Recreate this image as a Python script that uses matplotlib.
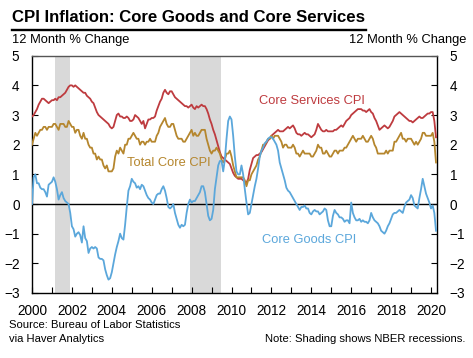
import matplotlib
matplotlib.use("Agg")
import matplotlib.pyplot as plt
import numpy as np
from matplotlib.lines import Line2D

plt.rcParams['font.family'] = ['Liberation Sans', 'DejaVu Sans']

# ---------------- data (monthly, Jan 2000 - Apr 2020) ----------------
start_year = 2000
core_services = [
    2.95, 3.0, 3.1, 3.2, 3.35, 3.45, 3.55, 3.55, 3.5, 3.45, 3.4, 3.45,   # 2000
    3.5, 3.5, 3.55, 3.5, 3.6, 3.6, 3.65, 3.7, 3.75, 3.85, 3.95, 4.0,     # 2001
    4.0, 3.95, 4.0, 3.95, 3.9, 3.85, 3.8, 3.75, 3.75, 3.65, 3.6, 3.55,   # 2002
    3.45, 3.4, 3.25, 3.1, 3.0, 2.95, 2.9, 2.85, 2.8, 2.75, 2.7, 2.6,     # 2003
    2.55, 2.6, 2.8, 3.0, 3.05, 2.95, 2.95, 2.9, 2.9, 2.95, 2.9, 2.8,     # 2004
    2.8, 2.85, 3.0, 2.95, 2.9, 2.8, 2.7, 2.8, 2.55, 2.7, 2.85, 2.85,     # 2005
    2.9, 2.9, 2.95, 3.15, 3.3, 3.45, 3.55, 3.75, 3.85, 3.75, 3.7, 3.8,   # 2006
    3.8, 3.7, 3.6, 3.55, 3.5, 3.45, 3.4, 3.35, 3.3, 3.3, 3.25, 3.3,      # 2007
    3.35, 3.25, 3.2, 3.3, 3.25, 3.3, 3.35, 3.3, 3.3, 3.2, 3.05, 2.85,    # 2008
    2.7, 2.5, 2.35, 2.15, 1.95, 1.75, 1.6, 1.55, 1.5, 1.45, 1.4, 1.35,   # 2009
    1.2, 1.05, 0.95, 0.9, 0.85, 0.85, 0.85, 0.8, 0.75, 0.72, 0.85, 1.15, # 2010
    1.35, 1.55, 1.6, 1.65, 1.65, 1.7, 1.75, 1.85, 1.95, 2.05, 2.15, 2.2, # 2011
    2.3, 2.35, 2.4, 2.45, 2.5, 2.45, 2.45, 2.45, 2.5, 2.55, 2.6, 2.55,   # 2012
    2.6, 2.65, 2.55, 2.4, 2.35, 2.35, 2.3, 2.35, 2.4, 2.35, 2.35, 2.3,   # 2013
    2.25, 2.3, 2.35, 2.5, 2.7, 2.6, 2.5, 2.45, 2.45, 2.5, 2.45, 2.45,    # 2014
    2.45, 2.45, 2.5, 2.5, 2.55, 2.6, 2.65, 2.6, 2.7, 2.8, 2.85, 2.9,     # 2015
    3.0, 3.05, 3.1, 3.15, 3.2, 3.2, 3.2, 3.15, 3.15, 3.1, 3.15, 3.2,     # 2016
    3.1, 3.05, 2.9, 2.8, 2.65, 2.5, 2.55, 2.6, 2.65, 2.6, 2.55, 2.6,     # 2017
    2.7, 2.8, 2.95, 3.0, 3.05, 3.1, 3.05, 3.0, 2.95, 2.9, 2.85, 2.8,     # 2018
    2.8, 2.75, 2.8, 2.85, 2.9, 2.95, 2.9, 2.9, 2.95, 3.0, 3.05, 3.05,    # 2019
    3.1, 3.1, 2.8, 2.25,                                                 # 2020
]
total_core = [
    2.0, 2.2, 2.4, 2.3, 2.4, 2.5, 2.5, 2.6, 2.6, 2.5, 2.6, 2.6,          # 2000
    2.6, 2.7, 2.7, 2.6, 2.5, 2.7, 2.7, 2.7, 2.6, 2.6, 2.8, 2.7,          # 2001
    2.6, 2.6, 2.4, 2.5, 2.5, 2.3, 2.2, 2.4, 2.2, 2.2, 2.0, 1.9,          # 2002
    1.9, 1.7, 1.7, 1.5, 1.6, 1.5, 1.5, 1.3, 1.2, 1.3, 1.1, 1.1,          # 2003
    1.1, 1.2, 1.6, 1.8, 1.7, 1.9, 1.8, 1.7, 2.0, 2.0, 2.2, 2.2,          # 2004
    2.3, 2.4, 2.3, 2.2, 2.2, 2.0, 2.1, 2.1, 2.0, 2.1, 2.1, 2.2,          # 2005
    2.1, 2.1, 2.1, 2.3, 2.4, 2.6, 2.7, 2.8, 2.9, 2.7, 2.6, 2.6,          # 2006
    2.7, 2.7, 2.5, 2.3, 2.2, 2.2, 2.2, 2.1, 2.1, 2.2, 2.3, 2.4,          # 2007
    2.5, 2.3, 2.4, 2.3, 2.3, 2.4, 2.5, 2.5, 2.5, 2.2, 2.0, 1.8,          # 2008
    1.7, 1.8, 1.8, 1.9, 1.8, 1.7, 1.5, 1.4, 1.5, 1.7, 1.7, 1.8,          # 2009
    1.6, 1.3, 1.1, 0.9, 0.9, 0.9, 0.9, 0.9, 0.8, 0.6, 0.8, 0.8,          # 2010
    1.0, 1.1, 1.2, 1.3, 1.5, 1.6, 1.8, 2.0, 2.0, 2.1, 2.2, 2.2,          # 2011
    2.3, 2.2, 2.3, 2.3, 2.3, 2.2, 2.1, 1.9, 2.0, 2.0, 1.9, 1.9,          # 2012
    1.9, 2.0, 1.9, 1.7, 1.7, 1.6, 1.7, 1.8, 1.7, 1.7, 1.7, 1.7,          # 2013
    1.6, 1.6, 1.7, 1.8, 2.0, 1.9, 1.9, 1.7, 1.7, 1.8, 1.7, 1.6,          # 2014
    1.6, 1.7, 1.8, 1.8, 1.7, 1.8, 1.8, 1.8, 1.9, 1.9, 2.0, 2.1,          # 2015
    2.2, 2.3, 2.2, 2.1, 2.2, 2.2, 2.2, 2.3, 2.2, 2.1, 2.1, 2.2,          # 2016
    2.3, 2.2, 2.0, 1.9, 1.7, 1.7, 1.7, 1.7, 1.7, 1.8, 1.7, 1.8,          # 2017
    1.8, 1.8, 2.1, 2.1, 2.2, 2.3, 2.4, 2.2, 2.2, 2.1, 2.2, 2.2,          # 2018
    2.2, 2.1, 2.0, 2.1, 2.0, 2.1, 2.2, 2.4, 2.4, 2.3, 2.3, 2.3,          # 2019
    2.3, 2.4, 2.1, 1.4,                                                  # 2020
]
core_goods = [
    0.0, 0.9, 1.0, 0.7, 0.7, 0.55, 0.5, 0.5, 0.4, 0.25, 0.65, 0.7,       # 2000
    0.75, 0.9, 0.75, 0.5, 0.15, 0.3, 0.4, 0.2, 0.1, 0.05, 0.0, -0.3,     # 2001
    -0.75, -0.85, -1.1, -1.0, -0.95, -1.05, -1.3, -0.75, -1.15, -1.25, -1.65, -1.5,  # 2002
    -1.45, -1.5, -1.45, -1.5, -1.8, -1.85, -1.85, -1.9, -2.2, -2.4, -2.55, -2.5,     # 2003
    -2.3, -2.0, -1.7, -1.45, -1.25, -1.0, -1.15, -1.2, -0.7, -0.1, 0.45, 0.6,        # 2004
    0.85, 0.75, 0.7, 0.55, 0.6, 0.5, 0.65, 0.6, 0.45, 0.3, 0.2, 0.15,    # 2005
    0.05, 0.0, 0.15, 0.3, 0.35, 0.35, 0.5, 0.6, 0.45, 0.2, -0.1, -0.15,  # 2006
    -0.1, 0.0, -0.3, -0.5, -0.7, -0.8, -0.7, -0.75, -0.7, -0.3, 0.0, 0.15,   # 2007
    0.05, 0.1, 0.1, 0.2, 0.3, 0.4, 0.6, 0.6, 0.4, 0.0, -0.4, -0.55,      # 2008
    -0.5, -0.2, 0.5, 0.9, 1.3, 1.45, 1.45, 1.1, 1.5, 2.2, 2.8, 2.95,     # 2009
    2.85, 2.3, 1.6, 1.1, 1.0, 1.0, 1.3, 1.0, 0.5, 0.05, -0.35, -0.3,     # 2010
    0.0, 0.3, 0.6, 0.85, 1.2, 1.6, 1.8, 1.9, 2.05, 2.1, 2.2, 2.25,       # 2011
    2.25, 2.2, 2.1, 2.0, 1.8, 1.4, 1.2, 1.0, 0.8, 0.55, 0.45, 0.4,       # 2012
    0.3, 0.2, 0.1, 0.0, -0.1, -0.2, -0.1, -0.1, -0.05, -0.15, -0.15, -0.3,   # 2013
    -0.35, -0.25, -0.2, -0.25, -0.25, -0.35, -0.3, -0.25, -0.15, -0.2, -0.55, -0.75,  # 2014
    -0.75, -0.4, -0.2, -0.3, -0.35, -0.45, -0.45, -0.5, -0.6, -0.55, -0.55, -0.65,   # 2015
    0.05, -0.3, -0.45, -0.55, -0.55, -0.5, -0.6, -0.55, -0.6, -0.6, -0.65, -0.55,    # 2016
    -0.3, -0.45, -0.55, -0.6, -0.65, -0.75, -0.9, -0.95, -1.0, -0.9, -0.75, -0.65,   # 2017
    -0.5, -0.35, -0.3, -0.3, -0.25, -0.2, -0.25, -0.3, -0.1, 0.05, 0.1, 0.15,        # 2018
    0.3, 0.2, -0.05, -0.1, -0.15, 0.2, 0.5, 0.85, 0.6, 0.35, 0.2, 0.05,  # 2019
    -0.15, -0.05, -0.3, -0.9,                                            # 2020
]
recessions = [(2001.17, 2001.88), (2007.92, 2009.46)]
year_ticks = list(range(2000, 2021, 2))
y_ticks = list(range(-3, 6))

# ---------------- figure ----------------
W, H = 473, 358
fig = plt.figure(figsize=(W / 100, H / 100), dpi=100)
fig.patch.set_facecolor('white')
ax = fig.add_axes([32 / W, 1 - 293 / H, (437 - 32) / W, (293 - 55.7) / H])

n = len(core_services)
x = start_year + np.arange(n) / 12.0

red = '#BE3B3F'
gold = '#B5862D'
blue = '#5BA7DB'

for a, b in recessions:
    ax.axvspan(a, b, color='#D9D9D9', lw=0, zorder=0)
ax.axhline(0, color='black', lw=1.0, zorder=1)
ax.plot(x, core_services, color=red, lw=1.3, zorder=3)
ax.plot(x, total_core, color=gold, lw=1.3, zorder=3)
ax.plot(x, core_goods, color=blue, lw=1.3, zorder=4)

ax.set_xlim(2000, 2020.3)
ax.set_ylim(-3, 5)
ax.set_xticks(year_ticks)
ax.set_xticks(range(2000, 2021), minor=True)
ax.set_yticks(y_ticks)
ax.tick_params(axis='both', which='both', direction='in', labelsize=9.8,
               colors='black', length=4, width=0.8)
ax.tick_params(axis='x', which='major', pad=8)
ax.tick_params(axis='y', which='major', pad=9, left=True, right=True)
ax.tick_params(axis='y', labelright=True)
for s in ['left', 'right', 'bottom']:
    ax.spines[s].set_linewidth(1.0)
ax.spines['top'].set_color('#555555')
ax.spines['top'].set_linewidth(1.0)

# series labels
ax.text(2004.75, 1.39, 'Total Core CPI', color=gold, fontsize=9.3, va='center', ha='left')
ax.text(2011.4, 3.48, 'Core Services CPI', color=red, fontsize=9.3, va='center', ha='left')
ax.text(2011.55, -1.23, 'Core Goods CPI', color=blue, fontsize=9.3, va='center', ha='left')

# title with underline
title = fig.text(12 / W, 1 - 17 / H, 'CPI Inflation: Core Goods and Core Services',
                 fontsize=14, fontweight='bold', ha='left', va='center',
                 family=['Liberation Sans Narrow', 'Liberation Sans', 'DejaVu Sans'])
fig.canvas.draw()
bb = title.get_window_extent()
title.set_fontsize(14 * (354.0 / bb.width))
fig.add_artist(Line2D([12 / W, 366 / W], [1 - 29.5 / H, 1 - 29.5 / H],
                      color='black', lw=1.7, transform=fig.transFigure))

fig.text(12 / W, 1 - 39.5 / H, '12 Month % Change', fontsize=9.3, ha='left', va='center')
fig.text(466 / W, 1 - 39.5 / H, '12 Month % Change', fontsize=9.3, ha='right', va='center')

fig.text(9 / W, 1 - 325 / H, 'Source: Bureau of Labor Statistics', fontsize=8.1, ha='left', va='center')
fig.text(9 / W, 1 - 338.5 / H, 'via Haver Analytics', fontsize=8.1, ha='left', va='center')
fig.text(465 / W, 1 - 338.5 / H, 'Note: Shading shows NBER recessions.', fontsize=8.1,
         ha='right', va='center')

fig.savefig('out.png', dpi=100)
